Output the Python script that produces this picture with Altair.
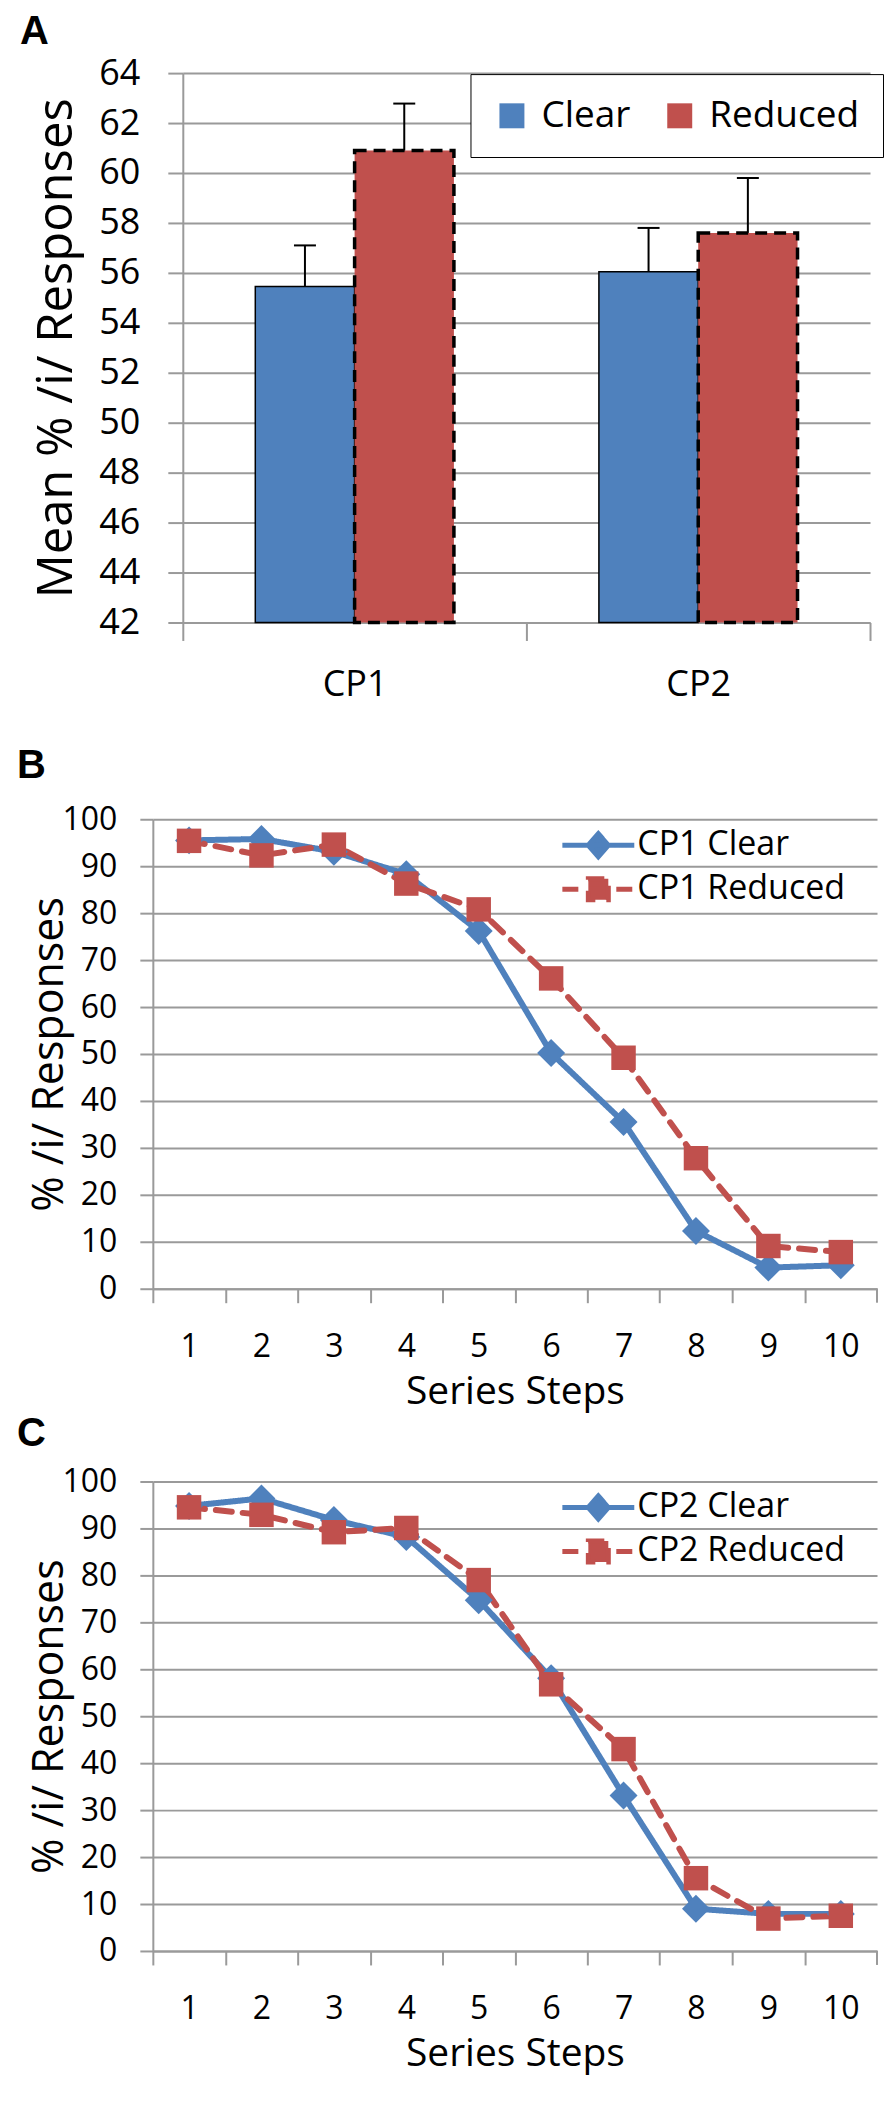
import altair as alt
import pandas as pd

# ---------------- data ----------------
cp_labels = ["CP1", "CP2"]
conditions = ["Clear", "Reduced"]
a_clear_mean = [55.45, 56.05]
a_reduced_mean = [60.9, 57.6]
a_clear_upper = [57.1, 57.8]
a_reduced_upper = [62.78, 59.8]
a_y_ticks = [42, 44, 46, 48, 50, 52, 54, 56, 58, 60, 62, 64]

steps = [1, 2, 3, 4, 5, 6, 7, 8, 9, 10]
b_series = ["CP1 Clear", "CP1 Reduced"]
b_clear = [95.5, 95.8, 93.1, 88.3, 76.2, 50.2, 35.5, 12.3, 4.5, 5.0]
b_reduced = [95.4, 92.3, 94.6, 86.3, 80.8, 66.1, 49.2, 27.8, 9.1, 7.8]
c_series = ["CP2 Clear", "CP2 Reduced"]
c_clear = [94.8, 96.4, 91.8, 88.2, 74.7, 58.1, 33.1, 9.0, 7.9, 7.9]
c_reduced = [94.5, 92.9, 89.2, 90.1, 79.0, 56.8, 43.0, 15.5, 6.9, 7.5]
pct_ticks = [0, 10, 20, 30, 40, 50, 60, 70, 80, 90, 100]

# ---------------- style ----------------
BLUE = "#4F81BD"
RED = "#C0504D"
GRID = "#9A9A9A"
FONT = "Open Sans"
LETTER_FONT = "Liberation Sans"
DASH = [16, 11]

INDEP = dict(fill="independent", stroke="independent", strokeDash="independent",
             shape="independent", color="independent")

# ---------------- panel A ----------------
dfA = pd.DataFrame({
    "cp": cp_labels * 2,
    "cond": [conditions[0]] * 2 + [conditions[1]] * 2,
    "mean": a_clear_mean + a_reduced_mean,
    "upper": a_clear_upper + a_reduced_upper,
})

SHIFT_A = 30          # panel A's plot starts this far right of panels B / C
WA, HA = 688 + SHIFT_A, 550

x_a = alt.X(
    "cp:N",
    scale=alt.Scale(domain=cp_labels, paddingInner=0, paddingOuter=0, range=[SHIFT_A, WA]),
    axis=alt.Axis(title=None, labelAngle=0, tickBand="extent", tickSize=18,
                  tickColor=GRID, tickWidth=2, domainColor=GRID, domainWidth=2,
                  labelFontSize=36, labelPadding=27, grid=False),
)
xoff_a = alt.XOffset("cond:N", scale=alt.Scale(domain=conditions, paddingInner=0, paddingOuter=0.73))
y_scale_a = alt.Scale(domain=[42, 64], nice=False, zero=False)
y_axis_a = alt.Axis(title="Mean % /i/ Responses", values=a_y_ticks, offset=-SHIFT_A, tickSize=15,
                    tickColor=GRID, tickWidth=2, domainColor=GRID, domainWidth=2,
                    gridColor=GRID, gridWidth=2, labelFontSize=36, labelPadding=28,
                    titleFontSize=49, titleX=-111, titleY=HA / 2, titleBaseline="alphabetic")

legA = alt.Legend(title=None, orient="none", legendX=318, legendY=1, direction="horizontal",
                  fillColor="white", strokeColor="black", padding=23, symbolType="square",
                  symbolSize=625, symbolStrokeColor="black", symbolStrokeWidth=2.5,
                  labelFontSize=37, labelFont=FONT, labelOffset=11, columnPadding=30,
                  labelColor="black", labelLimit=400)

bars = alt.Chart(dfA).mark_bar(stroke="black").encode(
    x=x_a, xOffset=xoff_a,
    y=alt.Y("mean:Q", scale=y_scale_a, axis=y_axis_a),
    y2=alt.datum(42),
    fill=alt.Fill("cond:N", scale=alt.Scale(domain=conditions, range=[BLUE, RED]), legend=legA),
    strokeDash=alt.StrokeDash("cond:N", scale=alt.Scale(domain=conditions, range=[[1, 0], [12, 7]]), legend=legA),
    strokeWidth=alt.condition("datum.cond == 'Reduced'", alt.value(3.5), alt.value(1.5)),
)
err = alt.Chart(dfA).mark_rule(color="black", strokeWidth=2).encode(
    x=x_a, xOffset=xoff_a,
    y=alt.Y("mean:Q", scale=y_scale_a, axis=y_axis_a),
    y2="upper:Q",
)
caps = alt.Chart(dfA).mark_point(shape="M-1,0L1,0", size=484, color="black", strokeWidth=2,
                                 filled=False, opacity=1).encode(
    x=x_a, xOffset=xoff_a,
    y=alt.Y("upper:Q", scale=y_scale_a, axis=y_axis_a),
)

panelA = alt.layer(bars, err, caps).properties(
    width=WA, height=HA,
    title=alt.TitleParams("A", anchor="start", frame="group", dx=-133, offset=-29, fontSize=40,
                          font=LETTER_FONT, fontWeight="bold", baseline="alphabetic", color="black"),
)

# ---------------- panels B / C ----------------
WB, HB = 725, 470
PATH_D = "M-3.6,0L3.6,0M0,-1.15L1,0L0,1.15L-1,0Z"
PATH_S = "M-3.6,0L3.6,0M-1,-1.05L1,-1.05L1,1.05L-1,1.05Z"


def line_panel(series, clear_vals, reduced_vals, letter, title_offset):
    df = pd.DataFrame({
        "step": steps * 2,
        "series": [series[0]] * len(steps) + [series[1]] * len(steps),
        "value": clear_vals + reduced_vals,
    })
    df_end = pd.DataFrame({"step": [steps[-1] + 0.5]})
    xs = alt.Scale(domain=[0.5, 10.5], nice=False, zero=False)
    x_axis = alt.Axis(title="Series Steps", values=[s - 0.5 for s in steps],
                      labelExpr="format(datum.value + 0.5, 'd')",
                      labelOffset=WB / 20, labelFlush=False, labelOverlap=False,
                      tickSize=14, tickColor=GRID, tickWidth=2, domainColor=GRID,
                      domainWidth=2, grid=False, labelFontSize=32, labelPadding=29,
                      titleFontSize=39, titlePadding=10)
    x = alt.X("step:Q", scale=xs, axis=x_axis)
    ys = alt.Scale(domain=[0, 100], nice=False)
    y = alt.Y("value:Q", scale=ys,
              axis=alt.Axis(title="% /i/ Responses", values=pct_ticks, tickSize=13, tickColor=GRID,
                            tickWidth=2, domainColor=GRID, domainWidth=2, gridColor=GRID,
                            gridWidth=2, labelFontSize=32, labelPadding=23, titleFontSize=43,
                            titleX=-90, titleY=HB / 2, titleBaseline="alphabetic"))
    color_scale = alt.Scale(domain=series, range=[BLUE, RED])
    dash_scale = alt.Scale(domain=series, range=[[1, 0], DASH])
    leg = alt.Legend(title=None, orient="none", legendX=429, legendY=9, symbolSize=400,
                     symbolStrokeWidth=5, labelFontSize=34, labelFont=FONT, labelOffset=22,
                     rowPadding=1, labelColor="black", labelLimit=400)

    is_reduced = alt.datum.series == series[1]
    line = alt.Chart(df).mark_line(strokeWidth=6, strokeCap="round").encode(
        x=x, y=y,
        detail="series:N",
        color=alt.condition(is_reduced, alt.value(RED), alt.value(BLUE)),
        strokeDash=alt.condition(is_reduced, alt.value(DASH), alt.value([1, 0])),
    )
    pts_c = alt.Chart(df).transform_filter(alt.datum.series == series[0]).mark_point(
        shape="diamond", size=784, filled=True, color=BLUE, opacity=1).encode(x=x, y=y)
    pts_r = alt.Chart(df).transform_filter(is_reduced).mark_point(
        shape="square", size=600, filled=True, color=RED, opacity=1).encode(x=x, y=y)
    end_tick = alt.Chart(df_end).mark_rule(color=GRID, strokeWidth=2).encode(
        x=x, y=alt.value(HB), y2=alt.value(HB + 14))
    legend_layer = alt.Chart(df).transform_filter("false").mark_point(
        filled=True, opacity=1, strokeWidth=5).encode(
        x=x, y=y,
        shape=alt.Shape("series:N", scale=alt.Scale(domain=series, range=[PATH_D, PATH_S]), legend=leg),
        fill=alt.Fill("series:N", scale=color_scale, legend=leg),
        stroke=alt.Stroke("series:N", scale=color_scale, legend=leg),
        strokeDash=alt.StrokeDash("series:N", scale=dash_scale, legend=leg),
    )
    return alt.layer(line, pts_c, pts_r, end_tick, legend_layer).properties(
        width=WB, height=HB,
        title=alt.TitleParams(letter, anchor="start", frame="group", dx=-136, offset=title_offset,
                              fontSize=40, font=LETTER_FONT, fontWeight="bold",
                              baseline="alphabetic", color="black"),
    )


panelB = line_panel(b_series, b_clear, b_reduced, "B", -15)
panelC = line_panel(c_series, c_clear, c_reduced, "C", -20)

lower = alt.concat(panelB, panelC, columns=1, spacing=2).properties(align="none").resolve_scale(
    **INDEP).resolve_legend(**INDEP)
chart = alt.concat(panelA, lower, columns=1, spacing=44).properties(
    align="none",
    padding={"left": 9, "top": 3, "right": 0, "bottom": 4},
    background="white",
).resolve_scale(**INDEP).resolve_legend(**INDEP).configure_view(stroke=None).configure_axis(
    labelFont=FONT, titleFont=FONT, labelColor="black", titleColor="black",
    titleFontWeight="normal",
).configure_legend(labelFont=FONT)

chart.save("out.html", embed_options={"renderer": "svg", "actions": False})
